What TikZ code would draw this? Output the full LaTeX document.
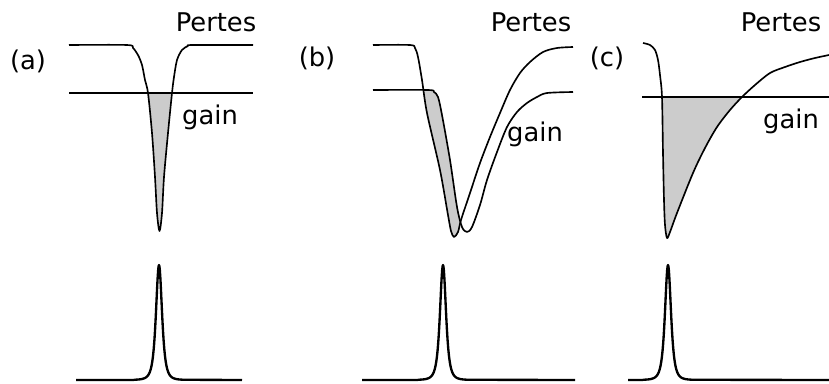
\documentclass[tikz,border=0pt]{standalone}
\usepackage{fontspec}
\setmainfont{DejaVu Sans}

\begin{document}
\begin{tikzpicture}[x=0.03cm, y=-0.03cm,
    curve/.style={line width=1.4pt, line join=round},
    pulse/.style={line width=2pt, line join=round},
    shade/.style={fill=black!20},
    lbl/.style={font=\fontsize{22}{26}\selectfont, inner sep=0pt}]

  \useasboundingbox (0,0) rectangle (829,383);

  % Loss and gain curves (pixel units, y downwards)
  \def\lossA{plot[smooth, tension=0.5] coordinates {(69,45) (127,45) (133,48) (138,55) (142,65) (145,80) (148,93) (152,133) (155,177) (157,213) (159.5,231) (162,213) (164,177) (168,133) (172,93) (174,77) (177,60) (182,50) (188,46) (193,45) (253,45)}}
  \def\lossB{plot[smooth, tension=0.5] coordinates {(373,45) (410,45) (415,48) (418,57) (422,80) (427,113) (440,170) (448,215) (451,231) (454,237) (458,232) (461,220) (470,193) (480,163) (490,137) (500,113) (510,90) (520,73) (530,62) (543,52) (557,48) (573,47)}}
  \def\gainB{plot[smooth, tension=0.5] coordinates {(373,90) (428,90) (434,92) (438,97) (442,115) (450,160) (457,207) (462,227) (467,232) (472,227) (480,205) (487,180) (497,152) (507,127) (517,112) (527,103) (537,97) (547,93) (573,92)}}
  \def\lossC{plot[smooth, tension=0.5] coordinates {(643,43) (650,45) (655,50) (658,60) (660,75) (662,97) (663,153) (664,200) (665,225) (667,238) (670,232) (677,213) (693,173) (705,148) (717,127) (730,110) (742,97) (755,85) (770,73) (785,67) (800,62) (815,58) (829,55)}}

  % Shaded net gain
  \begin{scope}
    \clip (0,93) rectangle (829,383);
    \fill[shade] \lossA -- cycle;
  \end{scope}
  \begin{scope}[even odd rule]
    \clip (0,90) rectangle (829,383);
    \clip (0,0) rectangle (829,383) \gainB -- (573,60) -- (373,60) -- cycle;
    \fill[shade] \lossB -- cycle;
  \end{scope}
  \begin{scope}
    \clip (0,97) rectangle (829,383);
    \fill[shade] \lossC -- cycle;
  \end{scope}

  % (a)
  \draw[curve] \lossA;
  \draw[curve] (69,93) -- (253,93);
  % (b)
  \draw[curve] \lossB;
  \draw[curve] \gainB;
  % (c)
  \draw[curve] \lossC;
  \draw[curve] (642,97) -- (829,97);

  % Pulses
  \foreach \xa/\xp/\xb in {76/159/242, 362/443/575, 628/668/829}
    \draw[pulse] (\xa,380) -- ({\xp-25},380)
      -- plot[domain=-25:25, samples=121] ({\xp+\x}, {380-115/((1+(\x/5.5)^2)*(1+(\x/5.5)^2))})
      -- (\xb,380);

  % Labels
  \node[lbl] (tagA) at (28,61) {(a)};
  \node[lbl] (tagB) at (317,58) {(b)};
  \node[lbl] (tagC) at (607,58) {(c)};
  \node[lbl, anchor=base] (pertesA) at (216,31) {Pertes};
  \node[lbl, anchor=base] (pertesB) at (531,31) {Pertes};
  \node[lbl, anchor=base] (pertesC) at (781,31) {Pertes};
  \node[lbl, anchor=base] (gainA) at (210,124) {gain};
  \node[lbl, anchor=base] (gainB) at (535,141) {gain};
  \node[lbl, anchor=base] (gainC) at (791,128) {gain};
\end{tikzpicture}
\end{document}
